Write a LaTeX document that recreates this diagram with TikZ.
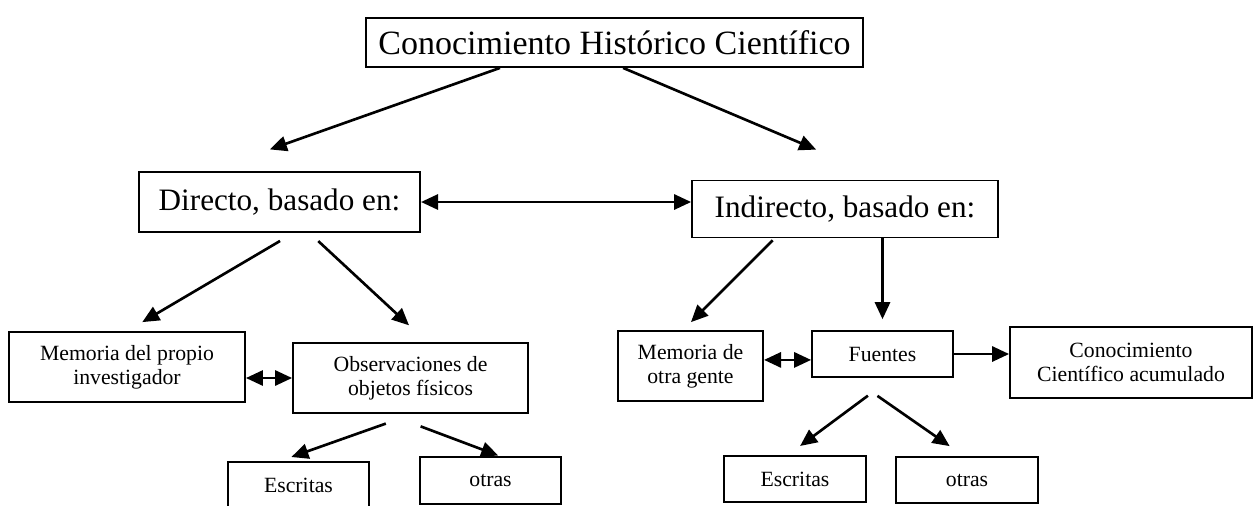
\documentclass[tikz,border=0pt]{standalone}
\usepackage{fontspec}
\setmainfont{Liberation Serif}
\usepackage{tikz}
\usetikzlibrary{shapes,arrows.meta,positioning}
\tikzset{titulo/.style={rectangle, draw, line width=1pt, fill=white, align=center, inner sep=0pt, font=\fontsize{16.5}{19}\selectfont}}
\tikzset{caja/.style={rectangle, draw, line width=1pt, fill=white, align=center, inner sep=0pt, font=\fontsize{11.5}{12.5}\selectfont}}
\tikzset{line/.style={draw, line width=1.4pt, -{Triangle[length=9pt,width=8pt]}}}
\tikzset{doble/.style={line, {Triangle[length=9pt,width=8pt]}-{Triangle[length=9pt,width=8pt]}}}

\begin{document}
\begin{tikzpicture}[x=0.0186cm, y=-0.0186cm]
        \useasboundingbox (0,0) rectangle (1254,505);
        \node[titulo, minimum width=9.24cm, minimum height=0.91cm, font=\fontsize{18}{21}\selectfont] (hist) at (614.5,42.5) {Conocimiento Histórico Científico};
        \node[titulo, minimum width=5.23cm, minimum height=1.12cm] (dir) at (279.5,202) {Directo, basado en:};
        \node[titulo, minimum width=5.69cm, minimum height=1.06cm] (ind) at (845,209) {Indirecto, basado en:};
        \node[caja, minimum width=4.39cm, minimum height=1.30cm] (mem1) at (127,367) {Memoria del propio\\investigador};
        \node[caja, minimum width=4.37cm, minimum height=1.30cm] (obs) at (410.5,378) {Observaciones de\\objetos físicos};
        \node[caja, minimum width=2.62cm, minimum height=0.86cm] (esc1) at (298.5,485) {Escritas};
        \node[caja, minimum width=2.62cm, minimum height=0.86cm] (otr1) at (490.5,480.5) {otras};
        \node[caja, minimum width=2.70cm, minimum height=1.30cm] (mem2) at (690.5,366) {Memoria de\\otra gente};
        \node[caja, minimum width=2.62cm, minimum height=0.86cm] (fue) at (882.5,354) {Fuentes};
        \node[caja, minimum width=4.50cm, minimum height=1.32cm] (acu) at (1131,362.5) {Conocimiento\\Científico acumulado};
        \node[caja, minimum width=2.64cm, minimum height=0.86cm] (esc2) at (795,479) {Escritas};
        \node[caja, minimum width=2.64cm, minimum height=0.86cm] (otr2) at (967,480) {otras};

        \path[line, shorten >=1.2cm] ([xshift=-2.13cm]hist.south) -- ([xshift=-1.31cm]dir.north);
        \path[line, shorten >=1.43cm] ([xshift=0.16cm]hist.south) -- ([xshift=0.78cm]ind.north);
        \path[doble] (dir.east) -- (dir.east -| ind.west);
        \path[line, shorten <=0.29cm, shorten >=0.33cm] ([xshift=0.26cm]dir.south) -- (mem1.north);
        \path[line, shorten <=0.22cm, shorten >=0.46cm] ([xshift=0.56cm]dir.south) -- ([xshift=0.31cm]obs.north);
        \path[line, shorten <=0.05cm, shorten >=0.21cm] ([xshift=-1.31cm]ind.south) -- ([xshift=-0.14cm]mem2.north);
        \path[line, shorten >=0.2cm] (ind.south -| fue.north) -- (fue.north);
        \path[doble] (obs.west -| mem1.east) -- (obs.west);
        \path[doble] ([yshift=-0.11cm]fue.west -| mem2.east) -- ([yshift=-0.11cm]fue.west);
        \path[line] (fue.east) -- (fue.east -| acu.west);
        \path[line, shorten <=0.54cm, shorten >=0.22cm] ([xshift=0.05cm]obs.south) -- ([xshift=-0.34cm]esc1.north);
        \path[line, shorten <=0.66cm, shorten >=0.05cm] ([xshift=-0.43cm]obs.south) -- ([xshift=0.19cm]otr1.north);
        \path[line, shorten <=0.55cm, shorten >=0.28cm] ([xshift=0.17cm]fue.south) -- ([xshift=-0.13cm]esc2.north);
        \path[line, shorten <=0.58cm, shorten >=0.32cm] ([xshift=-0.57cm]fue.south) -- ([xshift=-0.06cm]otr2.north);
\end{tikzpicture}
\end{document}
